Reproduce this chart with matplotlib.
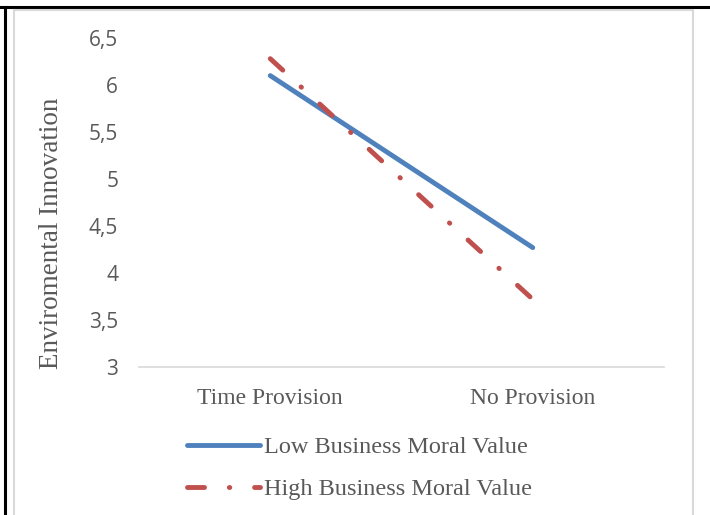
import matplotlib
matplotlib.use("Agg")
import matplotlib.pyplot as plt
from matplotlib.lines import Line2D

# interaction plot: provision x business moral value
categories = ["Time Provision", "No Provision"]
low_moral = [6.10, 4.27]
high_moral = [6.28, 3.72]
series_names = ["Low Business Moral Value", "High Business Moral Value"]
y_ticks = [3, 3.5, 4, 4.5, 5, 5.5, 6, 6.5]
y_tick_labels = ["3", "3,5", "4", "4,5", "5", "5,5", "6", "6,5"]

BLUE = "#4F81BD"
RED = "#C0504D"
TEXT = "#595959"
FRAME = "#D9D9D9"

W, H = 710, 515
fig = plt.figure(figsize=(W / 100, H / 100), dpi=100)
fig.patch.set_facecolor("white")

ax = fig.add_axes([139 / W, 1 - 367 / H, 525 / W, (367 - 38) / H])
x = list(range(len(categories)))

ax.plot(x, low_moral, color=BLUE, lw=3.5, solid_capstyle="round",
        label=series_names[0])
ax.plot(x, high_moral, color=RED, lw=3.5, dash_capstyle="round",
        linestyle=(0, (3.5, 5.1, 0.1, 5.1)), label=series_names[1])

ax.set_xlim(-0.5, len(categories) - 0.5)
ax.set_ylim(3, 6.5)
ax.set_xticks(x)
ax.set_xticklabels(categories, fontfamily="Liberation Serif", fontsize=17,
                   color=TEXT)
ax.set_yticks(y_ticks)
ax.set_yticklabels(y_tick_labels, fontfamily="Open Sans", fontsize=15,
                   color=TEXT)
ax.tick_params(axis="y", length=0, pad=15)
ax.tick_params(axis="x", length=0, pad=15)

for side in ["top", "left", "right"]:
    ax.spines[side].set_visible(False)
ax.spines["bottom"].set_color(FRAME)
ax.spines["bottom"].set_linewidth(1.2)

fig.text(52 / W, 1 - 233 / H, "Enviromental Innovation", rotation=90,
         ha="center", va="center", fontfamily="Liberation Serif",
         fontsize=19.5, color=TEXT)

fig.legend(loc="upper left", bbox_to_anchor=(175 / W, 1 - 424 / H),
           frameon=False, borderpad=0, handlelength=3.0,
           handletextpad=0.15, labelspacing=0.82,
           prop={"family": "Liberation Serif", "size": 17.5},
           labelcolor=TEXT)

# outer frame lines
fig.add_artist(Line2D([0, 1], [1 - 7 / H, 1 - 7 / H], color="black", lw=2.2,
                      transform=fig.transFigure))
fig.add_artist(Line2D([4.5 / W, 4.5 / W], [0, 1 - 7 / H], color="black",
                      lw=2.2, transform=fig.transFigure))
fig.add_artist(Line2D([14 / W, 692.5 / W, 692.5 / W],
                      [1 - 9.5 / H, 1 - 9.5 / H, 0], color=FRAME, lw=1.5,
                      transform=fig.transFigure))
fig.add_artist(Line2D([14 / W, 14 / W], [1 - 9.5 / H, 0], color=FRAME,
                      lw=1.5, transform=fig.transFigure))

fig.savefig("out.png", dpi=100)
